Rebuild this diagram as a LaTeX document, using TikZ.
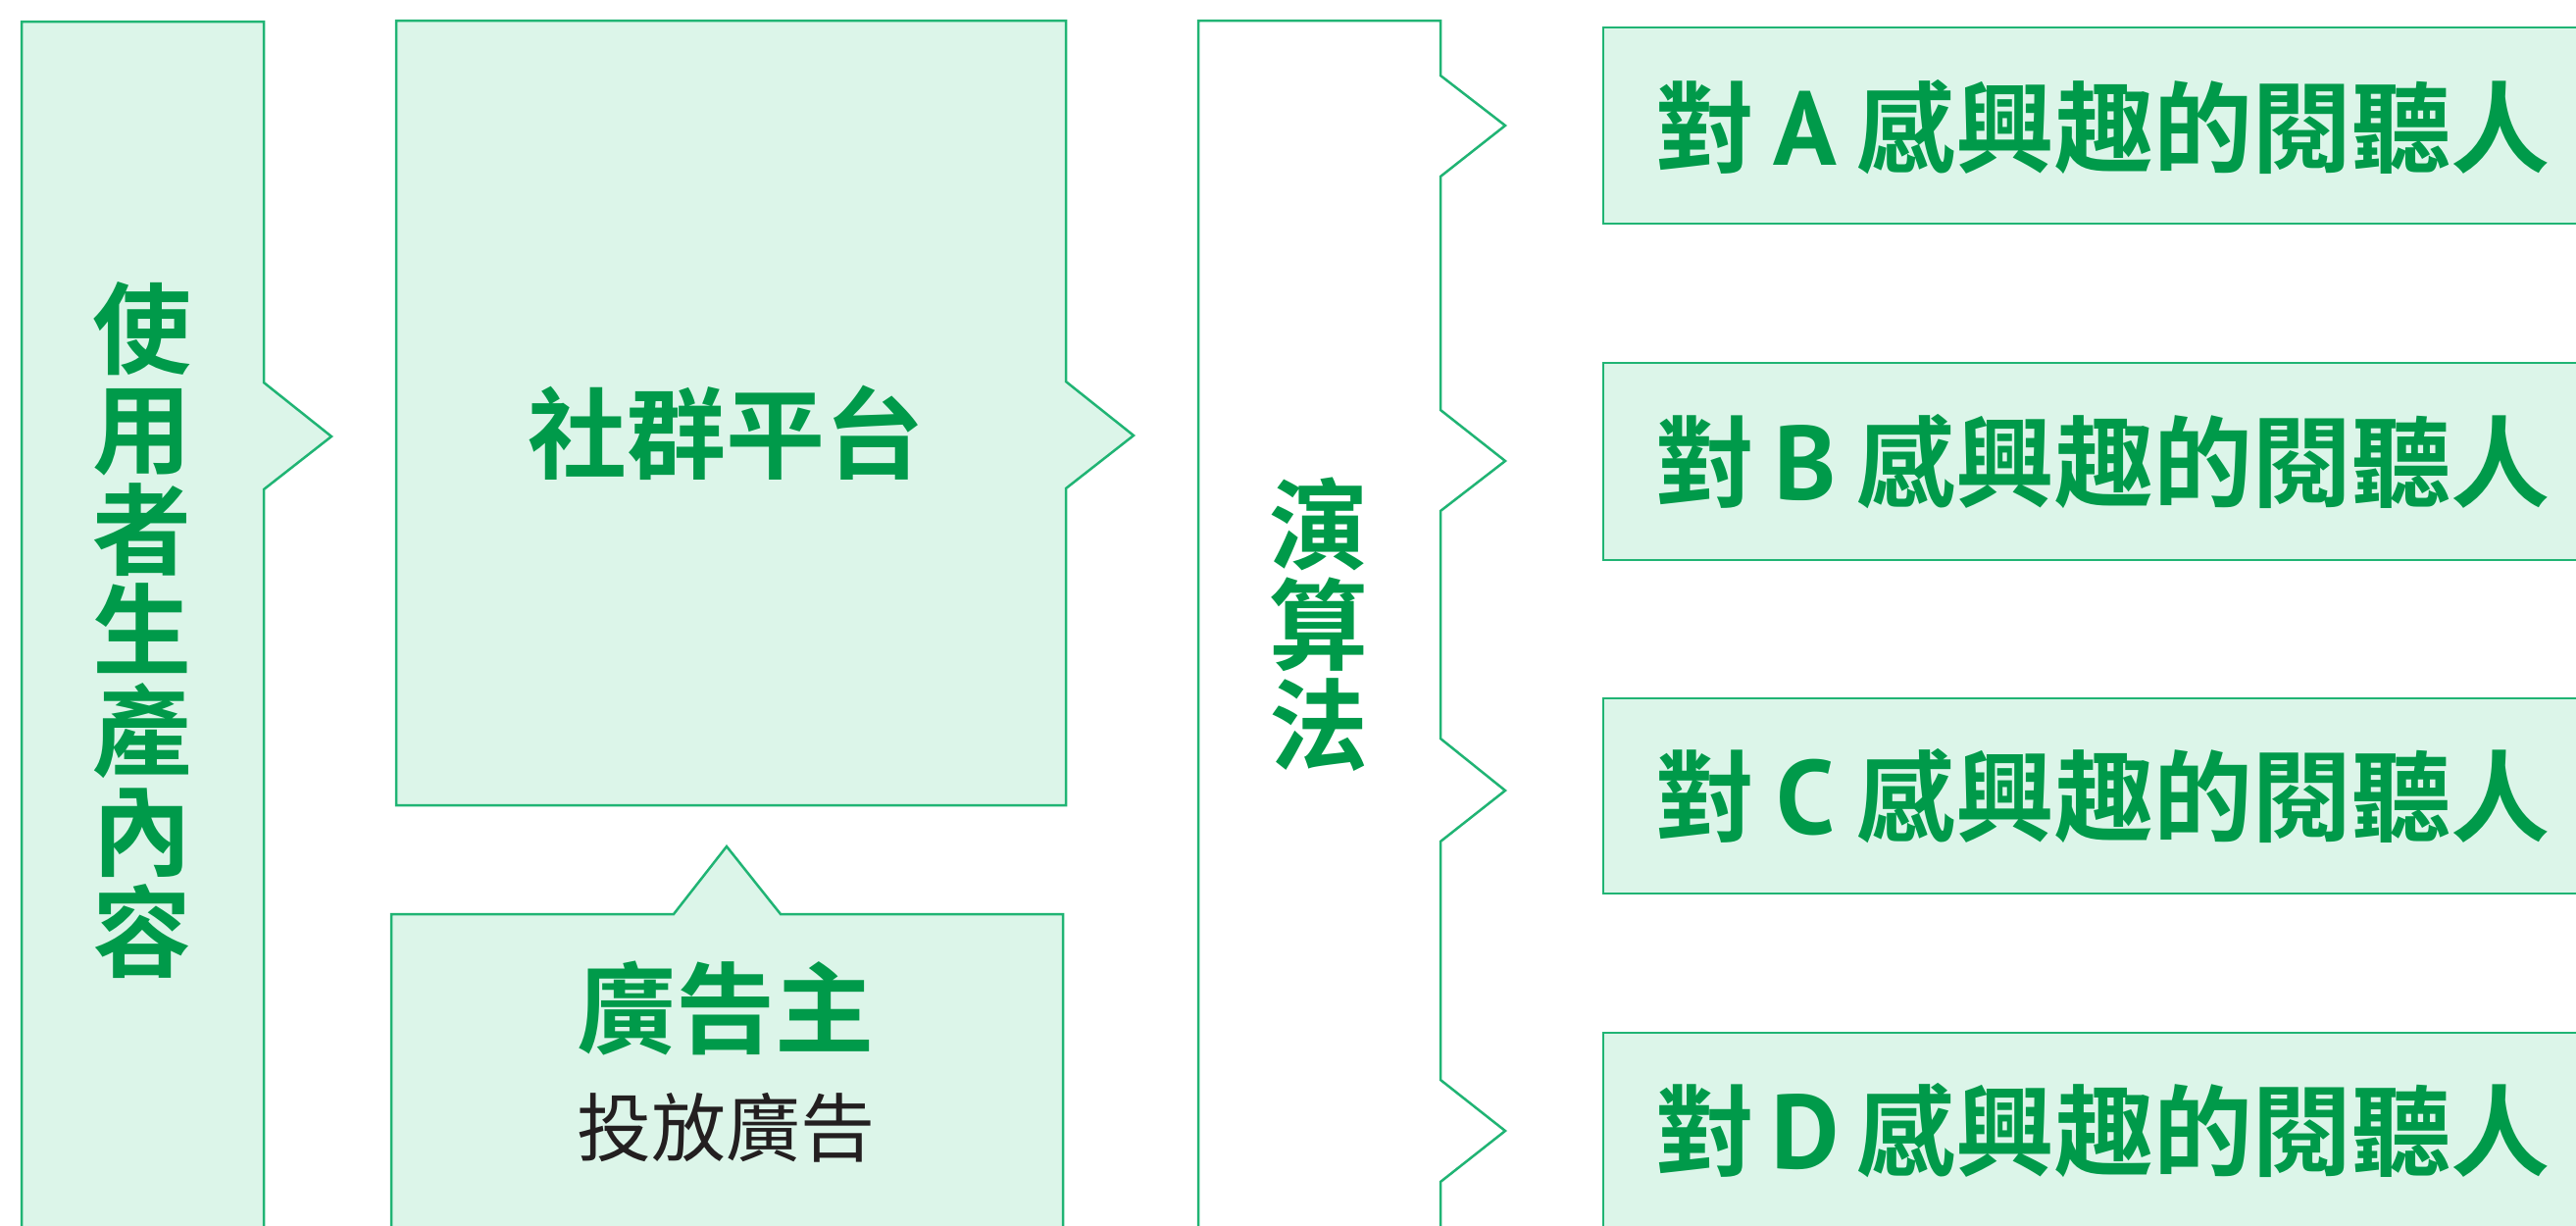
\documentclass[tikz,border=0pt]{standalone}
\usepackage{fontspec}
\newfontfamily\cjk{Noto Sans CJK TC}[BoldFont={Noto Sans CJK TC Bold}]
\newfontfamily\lat{PT Sans}
\definecolor{gtext}{HTML}{009A4A}
\definecolor{gfill}{HTML}{DCF5E9}
\definecolor{gline}{HTML}{20B474}
\definecolor{dtext}{HTML}{231F20}
\newcommand\audtext[1]{對\makebox[104pt][c]{\lat\bfseries\fontsize{107}{107}\selectfont #1}感興趣的閱聽人}
\begin{document}
\begin{tikzpicture}[x=1pt,y=-1pt,
  panel/.style={draw=gline, line width=2.5pt, fill=gfill, line join=miter},
  openpanel/.style={draw=gline, line width=2.5pt, fill=white, line join=miter},
  lbl/.style={inner sep=0pt, outer sep=0pt, text=gtext,
    font=\cjk\bfseries\fontsize{101}{101}\selectfont, text height=88pt, text depth=12pt},
  sublbl/.style={inner sep=0pt, outer sep=0pt, text=dtext,
    font=\cjk\fontsize{76}{76}\selectfont, text height=67pt, text depth=9pt}]
\clip (0,0) rectangle (2627,1250);
\fill[white] (0,0) rectangle (2627,1250);

% left box: user generated content
\draw[panel] (22,1280) -- (22,22) -- (269,22) -- (269,390) -- (338,445) -- (269,499) -- (269,1280) -- cycle;
\foreach \c [count=\i] in {使,用,者,生,產,內,容}
  \node[lbl] (u\i) at (145,{335+(\i-1)*102.5}) {\c};

% social platform
\draw[panel] (404,21) -- (1087,21) -- (1087,389) -- (1156,444) -- (1087,498) -- (1087,821) -- (404,821) -- cycle;
\node[lbl] (social) at (740,442) {社群平台};

% advertiser
\draw[panel] (399,1280) -- (399,932) -- (687,932) -- (741,863) -- (796,932) -- (1084,932) -- (1084,1280) -- cycle;
\node[lbl] (adv) at (740,1028) {廣告主};
\node[sublbl] (advsub) at (740,1149) {投放廣告};

% algorithm
\draw[openpanel] (1222,1280) -- (1222,21) -- (1469,21)
  -- (1469,77) -- (1535,128) -- (1469,180)
  -- (1469,418) -- (1535,470) -- (1469,521)
  -- (1469,753) -- (1535,806) -- (1469,858)
  -- (1469,1101) -- (1535,1153) -- (1469,1205)
  -- (1469,1280);
\foreach \c [count=\i] in {演,算,法}
  \node[lbl] (a\i) at (1345,{535+(\i-1)*102}) {\c};

% audiences
\draw[panel] (1635,28) rectangle (2660,228);
\draw[panel] (1635,370) rectangle (2660,571);
\draw[panel] (1635,712) rectangle (2660,911);
\draw[panel] (1635,1053) rectangle (2660,1253);
\node[lbl,anchor=west] (audA) at (1688,130) {\audtext{A}};
\node[lbl,anchor=west] (audB) at (1688,471) {\audtext{B}};
\node[lbl,anchor=west] (audC) at (1688,812) {\audtext{C}};
\node[lbl,anchor=west] (audD) at (1688,1153) {\audtext{D}};
\end{tikzpicture}
\end{document}
